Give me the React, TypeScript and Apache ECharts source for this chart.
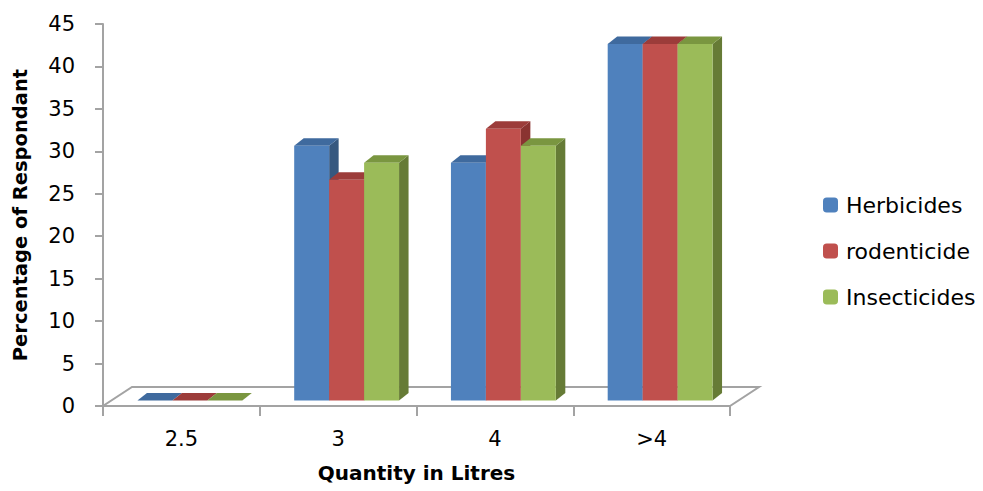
import React, { useEffect, useRef } from "react";
import * as echarts from "echarts";

// Quantity categories and percentage of respondents per pesticide type
const categories = ["2.5", "3", "4", ">4"];
const herbicides = [0, 30, 28, 42];
const rodenticide = [0, 26, 32, 42];
const insecticides = [0, 28, 30, 42];
const yTicks = { min: 0, max: 45, interval: 5 };

// Face shades for the pseudo-3D columns: front, top, side
const blueShades = { front: "#4f81bd", top: "#3f6a9e", side: "#36587f" };
const redShades = { front: "#c0504d", top: "#9c3c3a", side: "#8a3331" };
const greenShades = { front: "#9bbb59", top: "#7a9640", side: "#667b36" };

// Depth offsets (pixels) of the oblique projection
const FLOOR_DX = 29;
const FLOOR_DY = -19;
const PLANE_DX = 8.5; // columns sit a little behind the front of the floor
const PLANE_DY = -5.5;
const BAR_DX = 9.5;
const BAR_DY = -7.5;
const BAR_FRACTION = 0.223;

const FONT = "DejaVu Sans, Verdana, sans-serif";

function columnSeries(
  name: string,
  values: number[],
  slot: number,
  shades: { front: string; top: string; side: string }
) {
  return {
    type: "custom",
    name,
    clip: false,
    data: values.map((v, i) => [i, v]),
    encode: { x: 0, y: 1 },
    itemStyle: { color: shades.front },
    renderItem: (_params: any, api: any) => {
      const i = api.value(0);
      const v = api.value(1);
      const base = api.coord([i, 0]);
      const top = api.coord([i, v]);
      const band = api.size([1, 0])[0];
      const w = band * BAR_FRACTION;
      const x0 = base[0] - 1.5 * w + slot * w + PLANE_DX;
      const x1 = x0 + w;
      const yb = base[1] + PLANE_DY;
      const yt = top[1] + PLANE_DY;
      const children: any[] = [];
      if (yb - yt > 0.5) {
        children.push({
          type: "polygon",
          shape: {
            points: [
              [x1, yb],
              [x1 + BAR_DX, yb + BAR_DY],
              [x1 + BAR_DX, yt + BAR_DY],
              [x1, yt],
            ],
          },
          style: { fill: shades.side },
        });
      }
      children.push({
        type: "polygon",
        shape: {
          points: [
            [x0, yt],
            [x0 + BAR_DX, yt + BAR_DY],
            [x1 + BAR_DX, yt + BAR_DY],
            [x1, yt],
          ],
        },
        style: { fill: shades.top },
      });
      if (yb - yt > 0.5) {
        children.push({
          type: "rect",
          shape: { x: x0, y: yt, width: w, height: yb - yt },
          style: { fill: shades.front },
        });
      }
      return { type: "group", children };
    },
  };
}

const floorSeries = {
  type: "custom",
  name: "floor",
  clip: false,
  silent: true,
  data: [[0, 0]],
  encode: { x: 0, y: 1 },
  renderItem: (params: any) => {
    const cs = params.coordSys;
    const yb = cs.y + cs.height;
    return {
      type: "polygon",
      shape: {
        points: [
          [cs.x, yb],
          [cs.x + cs.width, yb],
          [cs.x + cs.width + FLOOR_DX, yb + FLOOR_DY],
          [cs.x + FLOOR_DX, yb + FLOOR_DY],
        ],
      },
      style: { fill: "#ffffff", stroke: "#a3a3a3", lineWidth: 2 },
    };
  },
};

export default function App() {
  const ref = useRef<HTMLDivElement>(null);

  useEffect(() => {
    if (!ref.current) return;
    const chart = echarts.init(ref.current, undefined, { renderer: "svg" });
    chart.setOption({
      animation: false,
      backgroundColor: "#ffffff",
      textStyle: { fontFamily: FONT },
      grid: { left: 103, top: 24, width: 627, height: 382 },
      legend: {
        orient: "vertical",
        left: 818,
        top: 189,
        itemWidth: 15,
        itemHeight: 15,
        itemGap: 24,
        data: ["Herbicides", "rodenticide", "Insecticides"],
        textStyle: {
          fontFamily: FONT,
          fontSize: 22,
          color: "#000000",
          padding: [0, 0, 0, 3],
        },
      },
      xAxis: {
        type: "category",
        data: categories,
        name: "Quantity in Litres",
        nameLocation: "middle",
        nameGap: 57,
        nameTextStyle: {
          fontFamily: FONT,
          fontSize: 20,
          fontWeight: "bold",
          color: "#000000",
        },
        axisLine: { show: true, lineStyle: { color: "#a3a3a3", width: 2 } },
        axisTick: {
          show: true,
          length: 10,
          lineStyle: { color: "#a3a3a3", width: 2 },
        },
        axisLabel: { margin: 22, fontSize: 21, color: "#000000", fontFamily: FONT },
        splitLine: { show: false },
      },
      yAxis: {
        type: "value",
        min: yTicks.min,
        max: yTicks.max,
        interval: yTicks.interval,
        name: "Percentage of Respondant",
        nameLocation: "middle",
        nameGap: 73,
        nameTextStyle: {
          fontFamily: FONT,
          fontSize: 19.5,
          fontWeight: "bold",
          color: "#000000",
        },
        axisLine: { show: true, lineStyle: { color: "#a3a3a3", width: 2 } },
        axisTick: {
          show: true,
          length: 8,
          lineStyle: { color: "#a3a3a3", width: 2 },
        },
        axisLabel: { margin: 28, fontSize: 21, color: "#000000", fontFamily: FONT },
        splitLine: { show: false },
      },
      series: [
        floorSeries,
        columnSeries("Herbicides", herbicides, 0, blueShades),
        columnSeries("rodenticide", rodenticide, 1, redShades),
        columnSeries("Insecticides", insecticides, 2, greenShades),
      ],
    });
    return () => chart.dispose();
  }, []);

  return (
    <div
      ref={ref}
      style={{ position: "absolute", left: 0, top: 0, width: 983, height: 491 }}
    />
  );
}
